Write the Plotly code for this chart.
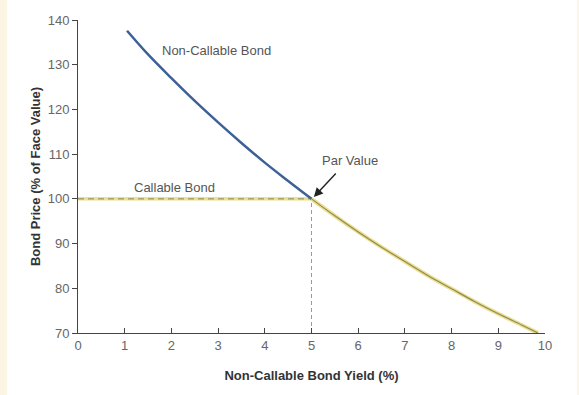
import plotly.graph_objects as go

# Data
yield_pct = [1.05, 1.5, 2, 2.5, 3, 3.5, 4, 4.5, 5, 5.5, 6, 6.5, 7, 7.5, 8, 8.5, 9, 9.5, 9.85]
noncallable_price = [137.6, 132.3, 127.0, 121.9, 117.1, 112.5, 108.1, 104.0, 100.0,
                     96.2, 92.6, 89.2, 86.0, 82.8, 79.9, 77.0, 74.3, 71.8, 70.0]
callable_flat_x = [0, 5]
callable_flat_y = [100, 100]
par_x = 5
par_y = 100
x_ticks = [0, 1, 2, 3, 4, 5, 6, 7, 8, 9, 10]
y_ticks = [70, 80, 90, 100, 110, 120, 130, 140]

upper_x = [x for x in yield_pct if x <= par_x]
upper_y = [p for x, p in zip(yield_pct, noncallable_price) if x <= par_x]
lower_x = [x for x in yield_pct if x >= par_x]
lower_y = [p for x, p in zip(yield_pct, noncallable_price) if x >= par_x]

FONT = "Liberation Sans, Arial, Helvetica, sans-serif"

fig = go.Figure()

# Vertical dashed line at par
fig.add_trace(go.Scatter(x=[par_x, par_x], y=[70, par_y], mode="lines",
                         line=dict(color="#9a9a9a", width=1, dash="4px,3px"),
                         hoverinfo="skip", showlegend=False))
# Callable bond: flat part (yellow band + dark dashes)
fig.add_trace(go.Scatter(x=callable_flat_x, y=callable_flat_y, mode="lines",
                         line=dict(color="#ece08e", width=3.5),
                         hoverinfo="skip", showlegend=False))
fig.add_trace(go.Scatter(x=callable_flat_x, y=callable_flat_y, mode="lines",
                         line=dict(color="#8c8660", width=1, dash="6px,4px"),
                         hoverinfo="skip", showlegend=False))
# Callable bond: follows non-callable above par yield
fig.add_trace(go.Scatter(x=lower_x, y=lower_y, mode="lines",
                         line=dict(color="#ebdf8c", width=4, shape="spline"),
                         hoverinfo="skip", showlegend=False))
fig.add_trace(go.Scatter(x=lower_x, y=lower_y, mode="lines",
                         line=dict(color="#8f8a58", width=1.2, shape="spline"),
                         hoverinfo="skip", showlegend=False))
# Non-callable bond, below par yield
fig.add_trace(go.Scatter(x=upper_x, y=upper_y, mode="lines",
                         line=dict(color="#3d6197", width=2.5, shape="spline"),
                         hoverinfo="skip", showlegend=False))

fig.add_annotation(x=1.76, y=133.1, text="Non-Callable Bond", showarrow=False,
                   xanchor="left", font=dict(size=13, color="#555555", family=FONT))
fig.add_annotation(x=1.15, y=102.6, text="Callable Bond", showarrow=False,
                   xanchor="left", font=dict(size=13, color="#555555", family=FONT))
fig.add_annotation(x=par_x + 0.05, y=par_y + 0.4, ax=5.55, ay=106,
                   axref="x", ayref="y", text="", showarrow=True,
                   arrowhead=2, arrowsize=1.3, arrowwidth=1.4, arrowcolor="#222222")
fig.add_annotation(x=5.82, y=108.5, text="Par Value", showarrow=False,
                   font=dict(size=13, color="#555555", family=FONT))

# Cream strips at edges
fig.add_shape(type="rect", xref="paper", yref="paper", x0=-78/467, x1=-71/467,
              y0=-62/313, y1=1 + 20/313, fillcolor="#fcf5e3", line=dict(width=0), layer="below")
fig.add_shape(type="rect", xref="paper", yref="paper", x0=1 + 32/467, x1=1 + 34/467,
              y0=-62/313, y1=1 + 20/313, fillcolor="#fcf5e3", line=dict(width=0), layer="below")

fig.update_layout(
    width=579, height=395,
    margin=dict(l=78, r=34, t=20, b=62),
    paper_bgcolor="white", plot_bgcolor="white",
    font=dict(family=FONT, color="#555555"),
    xaxis=dict(range=[0, 10], tickvals=x_ticks, ticks="inside", ticklen=5,
               tickcolor="#444444", showline=True, linecolor="#444444", linewidth=1,
               showgrid=False, zeroline=False, tickfont=dict(size=13, color="#666666"),
               title=dict(text="<b>Non-Callable Bond Yield (%)</b>", standoff=19,
                          font=dict(size=13, color="#333333"))),
    yaxis=dict(range=[70, 140], tickvals=y_ticks, ticks="outside", ticklen=5,
               tickcolor="#444444", showline=True, linecolor="#444444", linewidth=1,
               showgrid=False, zeroline=False, tickfont=dict(size=13, color="#666666"),
               title=dict(text="<b>Bond Price (% of Face Value)</b>", standoff=4,
                          font=dict(size=13, color="#333333"))),
)

fig.write_html("out.html", config={"displayModeBar": False},
               post_script="document.body.style.margin='0px';")
